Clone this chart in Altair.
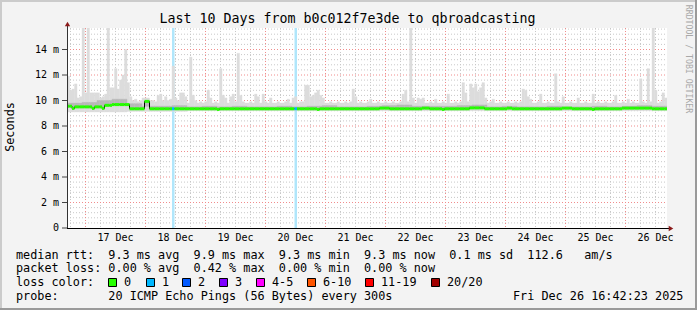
import altair as alt
import numpy as np
import pandas as pd

# ---------------- data (hourly values, 240 h ending Fri Dec 26 16:42) ----------------
smoke_max = [
    11.9, 10.8, 10.9, 11.3, 10.2, 10.3, 15.7, 10.6, 15.7, 10.6, 10.6, 10.6, 10.6, 10.2, 10.3, 10.5, 15.7, 11.0, 11.0, 12.5, 10.9, 11.6, 12.0, 14.0,
    11.4, 10.3, 10.0, 10.1, 9.9, 10.0, 10.2, 10.2, 10.2, 10.0, 10.0, 9.9, 10.4, 10.5, 10.0, 10.3, 10.0, 10.1, 12.7, 10.2, 10.0, 10.6, 10.6, 10.3,
    9.8, 13.4, 10.4, 10.0, 9.8, 9.9, 9.8, 9.9, 10.8, 10.2, 9.8, 9.9, 9.8, 12.5, 10.4, 10.2, 9.8, 10.3, 10.5, 9.9, 13.7, 10.4, 9.9, 9.8,
    9.8, 9.9, 9.8, 10.5, 10.3, 9.8, 10.5, 9.9, 9.8, 10.2, 9.8, 9.8, 9.9, 9.8, 9.8, 9.9, 10.1, 9.8, 10.2, 10.3, 9.8, 9.9, 9.9, 11.2,
    11.2, 10.3, 10.4, 10.6, 10.8, 10.4, 10.2, 9.8, 9.8, 9.9, 9.8, 9.8, 9.9, 9.8, 9.8, 9.9, 9.8, 9.9, 10.9, 10.3, 9.8, 9.9, 9.8, 9.8,
    9.9, 10.1, 9.8, 9.8, 9.9, 9.8, 9.8, 9.9, 9.8, 9.8, 9.9, 9.8, 9.8, 9.9, 10.5, 10.8, 9.9, 15.7, 10.2, 9.8, 10.2, 10.1, 10.2, 9.8,
    9.8, 9.9, 9.8, 10.1, 9.8, 9.8, 9.9, 9.8, 10.5, 9.8, 9.8, 9.9, 9.8, 9.9, 11.4, 10.6, 9.9, 11.3, 11.0, 11.3, 10.7, 11.0, 11.4, 10.2,
    9.8, 9.9, 10.1, 9.8, 9.8, 9.9, 9.8, 9.8, 9.9, 9.8, 9.8, 9.9, 9.8, 9.9, 10.9, 10.8, 10.3, 10.1, 9.8, 9.8, 9.9, 10.5, 9.8, 9.8,
    9.9, 9.8, 9.8, 12.1, 9.9, 9.8, 10.3, 9.8, 9.8, 9.9, 9.8, 9.8, 10.2, 9.8, 9.8, 9.9, 9.8, 9.8, 10.5, 9.8, 9.9, 9.8, 9.8, 9.9,
    9.8, 9.8, 9.9, 10.4, 9.8, 9.8, 9.9, 9.8, 10.1, 9.8, 9.9, 9.8, 9.8, 11.7, 9.9, 9.8, 12.5, 9.9, 15.7, 10.8, 9.8, 9.9, 10.6, 10.2,
]

median = [
    9.55, 9.55, 9.38, 9.5, 9.5, 9.5, 9.5, 9.5, 9.5, 9.5, 9.38, 9.5, 9.5, 9.5, 9.38, 9.62, 9.62, 9.62, 9.68, 9.68, 9.68, 9.68, 9.68, 9.68,
    9.68, 9.35, 9.35, 9.35, 9.35, 9.35, 9.35, 9.93, 9.93, 9.35, 9.35, 9.35, 9.35, 9.35, 9.35, 9.35, 9.35, 9.35, 9.35, 9.35, 9.35, 9.35, 9.35, 9.35,
    9.35, 9.35, 9.35, 9.35, 9.35, 9.35, 9.35, 9.35, 9.35, 9.35, 9.35, 9.35, 9.3, 9.35, 9.35, 9.35, 9.35, 9.35, 9.35, 9.35, 9.35, 9.35, 9.35, 9.35,
    9.35, 9.35, 9.35, 9.35, 9.35, 9.35, 9.35, 9.35, 9.35, 9.35, 9.35, 9.35, 9.35, 9.35, 9.35, 9.35, 9.35, 9.35, 9.35, 9.35, 9.35, 9.35, 9.35, 9.35,
    9.35, 9.35, 9.35, 9.35, 9.3, 9.35, 9.35, 9.35, 9.35, 9.35, 9.35, 9.35, 9.35, 9.35, 9.35, 9.35, 9.35, 9.35, 9.35, 9.35, 9.35, 9.35, 9.35, 9.35,
    9.35, 9.35, 9.35, 9.35, 9.35, 9.4, 9.4, 9.4, 9.4, 9.35, 9.35, 9.35, 9.35, 9.35, 9.35, 9.35, 9.35, 9.35, 9.35, 9.35, 9.35, 9.35, 9.4, 9.4,
    9.4, 9.35, 9.35, 9.35, 9.35, 9.35, 9.3, 9.35, 9.35, 9.35, 9.35, 9.35, 9.35, 9.35, 9.35, 9.35, 9.35, 9.42, 9.42, 9.42, 9.42, 9.42, 9.42, 9.35,
    9.35, 9.35, 9.35, 9.35, 9.35, 9.35, 9.35, 9.35, 9.4, 9.4, 9.35, 9.35, 9.35, 9.35, 9.35, 9.35, 9.35, 9.35, 9.35, 9.35, 9.35, 9.35, 9.35, 9.35,
    9.35, 9.35, 9.35, 9.35, 9.35, 9.35, 9.4, 9.4, 9.4, 9.4, 9.35, 9.35, 9.35, 9.35, 9.35, 9.35, 9.35, 9.35, 9.3, 9.35, 9.35, 9.35, 9.35, 9.35,
    9.35, 9.35, 9.35, 9.35, 9.35, 9.35, 9.4, 9.4, 9.4, 9.4, 9.4, 9.4, 9.4, 9.4, 9.4, 9.4, 9.4, 9.4, 9.35, 9.35, 9.35, 9.35, 9.35, 9.35,
]

inner_top_6h = [9.8, 9.85, 10.0, 10.1, 9.75, 9.55, 9.55, 9.6, 9.5, 9.55, 9.5, 9.55, 9.5, 9.5, 9.55, 9.5,
                9.55, 9.6, 9.5, 9.5, 9.55, 9.6, 9.65, 9.55, 9.55, 9.55, 9.6, 9.65, 9.5, 9.55, 9.5, 9.5,
                9.55, 9.5, 9.5, 9.55, 9.5, 9.55, 9.6, 9.55]
smoke_min_daily = [9.1, 9.15, 9.2, 9.2, 9.2, 9.2, 9.2, 9.2, 9.2, 9.2]
loss_hours = [42, 91]

day_labels = ["17 Dec", "18 Dec", "19 Dec", "20 Dec", "21 Dec", "22 Dec", "23 Dec", "24 Dec", "25 Dec", "26 Dec"]
y_ticks = [0, 2, 4, 6, 8, 10, 12, 14]
y_tick_labels = ["0", "2 m", "4 m", "6 m", "8 m", "10 m", "12 m", "14 m"]
loss_labels = ["0", "1", "2", "3", "4-5", "6-10", "11-19", "20/20"]
loss_colors = ["#26ff00", "#00b8ff", "#0059ff", "#7e00ff", "#ff00ff", "#ff5500", "#ff0000", "#a10000"]

title_text = "Last 10 Days from b0c012f7e3de to qbroadcasting"
legend_rows = [
    "median rtt:  9.3 ms avg  9.9 ms max  9.3 ms min  9.3 ms now  0.1 ms sd  112.6   am/s",
    "packet loss: 0.00 % avg  0.42 % max  0.00 % min  0.00 % now",
    "loss color:",
    "probe:       20 ICMP Echo Pings (56 Bytes) every 300s",
]
date_text = "Fri Dec 26 16:42:23 2025"
watermark = "RRDTOOL / TOBI OETIKER"

# ---------------- layout ----------------
HOURS = 240
W, H = 600, 200
PL, PT = 67, 28
MONO = "DejaVu Sans Mono"
NB = "\u00a0"
Y_TOP = 200 / 12.75  # 12.75 px per ms

x_scale = alt.Scale(domain=[0, HOURS], nice=False, zero=False)
y_scale = alt.Scale(domain=[0, Y_TOP], nice=False, zero=True)

hours = np.arange(HOURS)
df = pd.DataFrame({
    "h": hours,
    "h2": hours + 1,
    "lo": [smoke_min_daily[i // 24] for i in hours],
    "hi": smoke_max,
    "med": median,
    "ihi": [inner_top_6h[i // 6] for i in hours],
})
df["mc"] = np.where(df["h"].isin(loss_hours), loss_colors[1], loss_colors[0])
df_loss = df[df["h"].isin(loss_hours)]

midnight0 = 7.4  # hours from start to 17 Dec 00:00
v_minor = [1.4 + 6 * k for k in range(40) if k % 4 != 1]
v_major = [midnight0 + 24 * k for k in range(10)]
label_pos = [midnight0 + 12 + 24 * k for k in range(10)]
h_minor = [round(0.4 * i, 2) for i in range(1, 40) if i % 5 != 0]
h_major = [2, 4, 6, 8, 10, 12, 14]

one = pd.DataFrame({"a": [0]})
layers = []


def XQ(f):
    return alt.X(f, type="quantitative", scale=x_scale, axis=None)


def YQ(f):
    return alt.Y(f, type="quantitative", scale=y_scale, axis=None)


def vgrid(vals, color):
    return alt.Chart(pd.DataFrame({"vx": vals})).mark_rule(color=color, strokeWidth=1, strokeDash=[1, 2]).encode(
        x=XQ("vx"), y=alt.value(0), y2=alt.value(H))


def hgrid(vals, color):
    return alt.Chart(pd.DataFrame({"vy": vals})).mark_rule(color=color, strokeWidth=1, strokeDash=[1, 2]).encode(
        y=YQ("vy"), x=alt.value(0), x2=alt.value(W))


layers += [vgrid(v_minor, "#c8c8c8"), hgrid(h_minor, "#c8c8c8"),
           vgrid(v_major, "#f08c8c"), hgrid(h_major, "#f08c8c")]

# loss background (full height)
layers.append(alt.Chart(df_loss).mark_rect(color="#b0e6fb", clip=True).encode(
    x=XQ("h"), x2="h2:Q", y=alt.value(0), y2=alt.value(H)))

# smoke
layers.append(alt.Chart(df).mark_rect(color="#dcdcdc", stroke="#dcdcdc", strokeWidth=0.4, clip=True).encode(
    x=XQ("h"), x2="h2:Q", y=YQ("lo"), y2="hi:Q"))
layers.append(alt.Chart(df).mark_rect(color="#b8b8b8", stroke="#b8b8b8", strokeWidth=0.4, clip=True).encode(
    x=XQ("h"), x2="h2:Q", y=YQ("med"), y2="ihi:Q"))

# median: thin black step line, then coloured segments
layers.append(alt.Chart(df).mark_line(color="#000000", strokeWidth=1, interpolate="step-after", clip=True).encode(
    x=XQ("h"), y=YQ("med")))
layers.append(alt.Chart(df).mark_rule(strokeWidth=3, clip=True).encode(
    x=XQ("h"), x2="h2:Q", y=YQ("med"), color=alt.Color("mc:N", scale=None)))

# axes: lines, ticks, labels
layers.append(alt.Chart(one).mark_rule(color="#333333", strokeWidth=1).encode(
    x=alt.value(0.5), y=alt.value(H), y2=alt.value(-4)))
layers.append(alt.Chart(one).mark_rule(color="#000000", strokeWidth=1).encode(
    x=alt.value(0), x2=alt.value(602), y=alt.value(H + 0.5)))
layers.append(alt.Chart(one).mark_point(shape="triangle-up", filled=True, color="#8b1a1a", size=28, opacity=1).encode(
    x=alt.value(0.5), y=alt.value(-4)))
layers.append(alt.Chart(one).mark_point(shape="triangle-right", filled=True, color="#8b1a1a", size=28, opacity=1).encode(
    x=alt.value(604), y=alt.value(H + 0.5)))

df_yt = pd.DataFrame({"tv": y_ticks, "lab": y_tick_labels})
layers.append(alt.Chart(df_yt).mark_rule(color="#444444", strokeWidth=1).encode(
    y=YQ("tv"), x=alt.value(-5), x2=alt.value(0)))
layers.append(alt.Chart(df_yt).mark_text(font=MONO, fontSize=10, align="right", baseline="middle", color="#000000").encode(
    y=YQ("tv"), x=alt.value(-8), text="lab:N"))

df_xt = pd.DataFrame({"tx": label_pos, "lab": day_labels})
layers.append(alt.Chart(df_xt).mark_text(font=MONO, fontSize=10, align="center", baseline="middle", color="#000000").encode(
    x=XQ("tx"), y=alt.value(H + 9.7), text="lab:N"))

# frame (3-D border)
TOT_W, TOT_H = 697, 310
for (x1, x2, y1, y2, c) in [
    (-PL, TOT_W - PL, -PT, -PT + 2, "#cbcbcb"),
    (-PL, -PL + 2, -PT, TOT_H - PT, "#cbcbcb"),
    (-PL, TOT_W - PL, TOT_H - PT - 2, TOT_H - PT, "#9a9a9a"),
    (TOT_W - PL - 2, TOT_W - PL, -PT, TOT_H - PT, "#9a9a9a"),
]:
    layers.append(alt.Chart(one).mark_rect(color=c).encode(
        x=alt.value(x1), x2=alt.value(x2), y=alt.value(y1), y2=alt.value(y2)))


def txt(s, x, y, size=11.8, align="left", angle=0, color="#000000"):
    kw = dict(font=MONO, fontSize=size, align=align, baseline="middle", color=color)
    if angle:
        kw["angle"] = angle
    return alt.Chart(one).mark_text(**kw).encode(
        x=alt.value(x), y=alt.value(y), text=alt.value(s.replace(" ", NB)))


layers.append(txt(title_text, 347.5 - PL, 19 - PT, size=13.3, align="center"))
layers.append(txt("Seconds", 10 - PL, 127 - PT, size=11.8, align="center", angle=270))
layers.append(txt(watermark, 688 - PL, 59 - PT, size=8.2, align="center", angle=90, color="#a8a8a8"))

row_y = [255, 268.3, 282.3, 295.7]
for s, yy in zip(legend_rows, row_y):
    layers.append(txt(s, 16 - PL, yy - PT))
layers.append(txt(date_text, 513 - PL, row_y[3] - PT))

sq_x = [108, 146, 182, 219, 256, 307, 365, 431]
for lab, col, sx in zip(loss_labels, loss_colors, sq_x):
    layers.append(alt.Chart(one).mark_rect(color=col, stroke="#000000", strokeWidth=1).encode(
        x=alt.value(sx - PL + 0.5), x2=alt.value(sx - PL + 8.5),
        y=alt.value(278 - PT + 0.5), y2=alt.value(286 - PT + 0.5)))
    layers.append(txt(lab, sx + 16 - PL, row_y[2] - PT))

chart = alt.layer(*layers).properties(
    width=W, height=H, background="#f3f3f3",
    autosize=alt.AutoSizeParams(type="none"),
    padding={"left": PL, "top": PT, "right": TOT_W - PL - W, "bottom": TOT_H - PT - H},
).configure_view(stroke=None, fill="#ffffff")

chart.save("out.html", embed_options={"renderer": "svg", "actions": False})
